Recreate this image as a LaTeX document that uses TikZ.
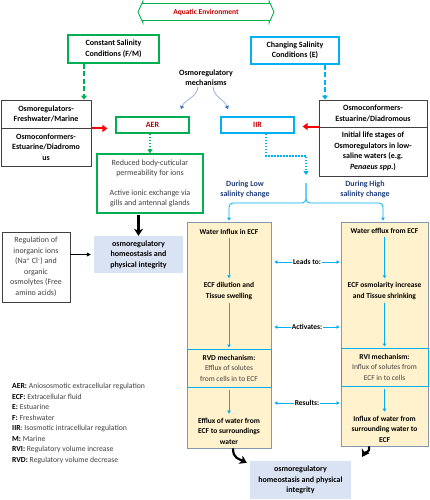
\documentclass[tikz,border=0pt]{standalone}
\usepackage{fontspec}
\setmainfont{Carlito}
\usetikzlibrary{arrows.meta,positioning}
\definecolor{cgreen}{HTML}{00B050}
\definecolor{cblue}{HTML}{00B0F0}
\definecolor{cdred}{HTML}{C00000}
\definecolor{cgray}{HTML}{404040}
\definecolor{cyellow}{HTML}{FFF2CC}
\definecolor{cyedge}{HTML}{8497B0}
\definecolor{chomeo}{HTML}{DAE3F3}
\definecolor{cnavy}{HTML}{203E7A}
\definecolor{cmech}{HTML}{8FAADC}
\definecolor{cmechtip}{HTML}{4472C4}
\newcommand{\legkey}[1]{\textcolor{black}{\textbf{#1}}}

\begin{document}
\begin{tikzpicture}[x=1pt,y=-1pt,
        font=\fontsize{8}{10.5}\selectfont,
        every node/.style={align=center, inner sep=1pt},
        bold/.style={font=\fontsize{8}{10.5}\selectfont\bfseries},
        grnbox/.style={draw=cgreen, line width=1.2pt, fill=white},
        blubox/.style={draw=cblue, line width=1.2pt, fill=white},
        graybox/.style={draw=cgray, line width=0.9pt, bold},
        colbox/.style={draw=cyedge, fill=cyellow, line width=0.9pt},
        mechbox/.style={draw=cblue, fill=cyellow, line width=1pt, minimum height=38pt, text=cgray, font=\fontsize{7.5}{10.5}\selectfont},
        coltext/.style={font=\fontsize{7.5}{10.5}\selectfont\bfseries},
        homeo/.style={fill=chomeo, bold},
        lnk/.style={cblue, line width=0.8pt, -{Triangle[length=3pt,width=3.5pt]}},
        redarr/.style={red, line width=2pt, -{Triangle[length=5pt,width=7pt]}},
        bigarr/.style={black, line width=2.2pt, -{Stealth[length=7pt,width=9pt,inset=2pt]}},
        mecharr/.style={cmech, line width=0.7pt, -{Triangle[length=3.5pt,width=4pt,color=cmechtip]}}]
        \useasboundingbox (0,0) rectangle (430,500);

        % Aquatic environment
        \draw[cgreen, line width=0.9pt] (138,12) -- (143,1) -- (143,3.5) -- (269,3.5) -- (269,1) -- (274,12)
            -- (269,23) -- (269,20.5) -- (143,20.5) -- (143,23) -- cycle;
        \node[font=\fontsize{7.5}{9}\selectfont\bfseries, text=cdred] (env) at (206,12) {Aquatic Environment};

        % Salinity conditions
        \node[grnbox, bold, minimum width=91pt, minimum height=28pt] (csc) at (113.5,49) {Constant Salinity\\Conditions (F/M)};
        \node[blubox, bold, minimum width=88pt, minimum height=27pt] (chsc) at (295,50.5) {Changing Salinity\\Conditions (E)};

        % Organisms
        \node[graybox, minimum width=90pt, minimum height=28pt] (oreg) at (46,114) {Osmoregulators-\\Freshwater/Marine};
        \node[graybox, minimum width=90pt, minimum height=38pt] (oconfL) at (46,147) {Osmoconformers-\\Estuarine/Diadromo\\us};
        \node[graybox, minimum width=108pt, minimum height=27pt] (oconfR) at (373,113.5) {Osmoconformers-\\Estuarine/Diadromous};
        \node[graybox, minimum width=108pt, minimum height=49pt] (early) at (373,151.5) {Initial life stages of\\Osmoregulators in low-\\saline waters (e.g.\\\textit{Penaeus spp.})};
        \draw[cgreen, line width=2pt, dash pattern=on 5pt off 2.5pt, -{Triangle[length=4pt,width=6pt]}] ([xshift=-29.5pt]csc.south) -- ([xshift=38pt]oreg.north);
        \draw[cblue, line width=2pt, dash pattern=on 5pt off 2.5pt, -{Triangle[length=4pt,width=6pt]}] ([xshift=30pt]chsc.south) -- ([xshift=-48pt]oconfR.north);

        % Mechanisms
        \node[bold] (mech) at (206,77.5) {Osmoregulatory\\mechanisms};
        \node[grnbox, bold, text=cdred, minimum width=73pt, minimum height=16pt] (aer) at (152.5,125) {AER};
        \node[blubox, bold, text=cdred, minimum width=73pt, minimum height=16pt] (iir) at (257.5,125) {IIR};
        \draw[mecharr] ([xshift=-8pt]mech.south) to[out=-95,in=70] ([xshift=28.5pt,yshift=7pt]aer.north);
        \draw[mecharr] ([xshift=7pt]mech.south) to[out=-85,in=110] ([xshift=-29.5pt,yshift=7pt]iir.north);
        \draw[redarr, shorten >=8pt] (oreg.south east) -- (oreg.south east -| aer.west);
        \draw[redarr, shorten >=8pt] (early.north west) -- (early.north west -| iir.east);

        % AER branch
        \node[grnbox, text=cgray, minimum width=106pt, minimum height=59pt] (aerbox) at (150,183.5) {Reduced body-cuticular\\permeability for ions\\[9pt]Active ionic exchange via\\gills and antennal glands};
        \draw[cgreen, line width=1.8pt, dash pattern=on 1.5pt off 1.5pt, -{Triangle[length=4pt,width=5pt]}] (aerbox.north |- aer.south) -- (aerbox.north);
        \node[homeo, minimum width=89pt, minimum height=37pt] (homeoL) at (138.5,254.5) {osmoregulatory\\homeostasis and\\physical integrity};
        \draw[bigarr, shorten <=1pt] (homeoL.north |- aerbox.south) -- (homeoL.north);
        \node[graybox, font=\fontsize{8}{10.5}\selectfont, text=cgray, minimum width=68pt, minimum height=70pt] (reg) at (36,267) {Regulation of\\inorganic ions\\(Na\textsuperscript{+} Cl\textsuperscript{-}) and\\organic\\osmolytes (Free\\amino acids)};
        \draw[black, line width=0.8pt, shorten >=3pt, -{Triangle[length=4pt,width=4pt]}] (reg.east |- homeoL.west) -- (homeoL.west);

        % IIR branch
        \coordinate (iirend) at (306,175);
        \coordinate (fork) at (306,183);
        \draw[cblue, line width=1.8pt, dash pattern=on 1.5pt off 1.5pt, -{Triangle[length=4pt,width=5pt]}] ([xshift=8.5pt]iir.south) -- ++(0,22) -| (iirend);
        \node[text=cnavy, bold] (low) at (245,189.5) {During Low\\salinity change};
        \node[text=cnavy, bold] (high) at (365,189.5) {During High\\salinity change};

        % Columns
        \node[colbox, minimum width=84pt, minimum height=226pt] (lcol) at (229,335) {};
        \node[colbox, minimum width=87pt, minimum height=224pt] (rcol) at (384.5,334) {};
        \draw[lnk, rounded corners=4pt] (fork) -- (fork |- 0,203) -| ([yshift=1pt]lcol.north);
        \draw[lnk, rounded corners=4pt] (fork) -- (fork |- 0,203) -| ([xshift=-1.5pt,yshift=1pt]rcol.north);

        % Low salinity
        \node[coltext] (win) at (229,232) {Water Influx in ECF};
        \node[coltext] (edil) at (229,291) {ECF dilution and\\Tissue swelling};
        \node[mechbox, minimum width=84pt] (rvd) at (229,368) {\textbf{\color{black}RVD mechanism:}\\Efflux of solutes\\from cells in to ECF};
        \node[coltext] (eff) at (229,431) {Efflux of water from\\ECF to surroundings\\water};
        \draw[lnk, shorten <=2pt, shorten >=3pt] (win) -- (edil);
        \draw[lnk, shorten <=2pt, shorten >=1pt] (edil) -- (rvd);
        \draw[lnk, shorten <=2pt, shorten >=3pt] (rvd) -- (eff);

        % High salinity
        \node[coltext] (wef) at (384.5,231) {Water efflux from ECF};
        \node[coltext] (eosm) at (384.5,291) {ECF osmolarity increase\\and Tissue shrinking};
        \node[mechbox, minimum width=87pt] (rvi) at (384.5,367) {\textbf{\color{black}RVI mechanism:}\\Influx of solutes from\\ECF in to cells};
        \node[coltext] (inf) at (384.5,429) {Influx of water from\\surrounding water to\\ECF};
        \draw[lnk, shorten <=2pt, shorten >=3pt] (wef) -- (eosm);
        \draw[lnk, shorten <=2pt, shorten >=1pt] (eosm) -- (rvi);
        \draw[lnk, shorten <=2pt, shorten >=3pt] (rvi) -- (inf);

        % Links between columns
        \node[coltext] (leads) at (307,262) {Leads to:};
        \node[coltext] (act) at (307,327) {Activates:};
        \node[coltext] (res) at (307,403) {Results:};
        \foreach \lab in {leads,act,res} {
            \draw[lnk, shorten >=3pt] (\lab.west) -- (lcol.east |- \lab.west);
            \draw[lnk, shorten >=1pt] (\lab.east) -- (rcol.west |- \lab.east);
        }

        % Final homeostasis
        \node[homeo, minimum width=101pt, minimum height=38pt] (homeoB) at (300.5,480) {osmoregulatory\\homeostasis and physical\\integrity};
        \draw[bigarr] ([xshift=4pt]lcol.south) .. controls +(0,10) and +(-8,-4) .. ([xshift=-3pt,yshift=-2pt]homeoB.north west);
        \draw[bigarr] ([xshift=-15.5pt]rcol.south) .. controls +(1,7) and +(3,-5) .. ([xshift=11pt,yshift=4pt]homeoB.north east);

        % Legend
        \node[anchor=north west, align=left, inner sep=0pt, text=cgray, font=\fontsize{7.7}{10.5}\selectfont] (legend) at (12,383) {%
            \legkey{AER:} Aniososmotic extracellular regulation\\
            \legkey{ECF:} Extracellular fluid\\
            \legkey{E:} Estuarine\\
            \legkey{F:} Freshwater\\
            \legkey{IIR}: Isosmotic intracellular regulation\\
            \legkey{M:} Marine\\
            \legkey{RVI:} Regulatory volume increase\\
            \legkey{RVD:} Regulatory volume decrease};
\end{tikzpicture}
\end{document}
